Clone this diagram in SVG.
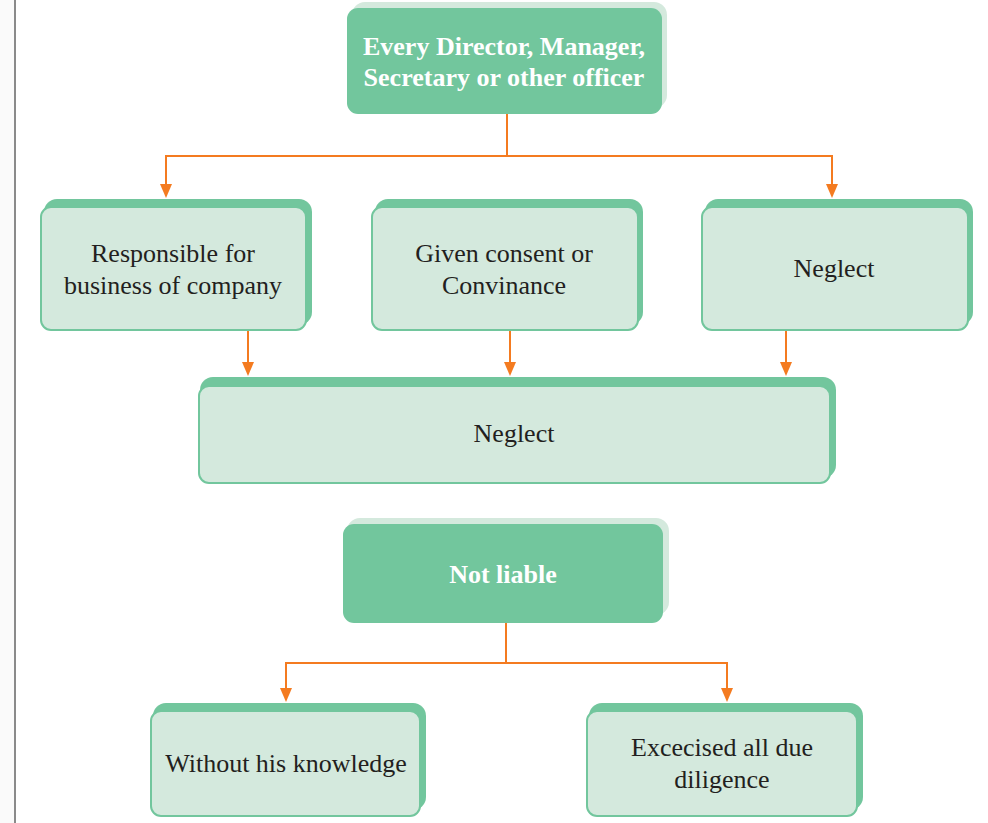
<svg xmlns="http://www.w3.org/2000/svg" width="988" height="823" viewBox="0 0 988 823">
  <defs>
    <style>
      .dark-back { fill: #d4e9dd; }
      .dark-front { fill: #72c69d; }
      .light-back { fill: #72c69d; }
      .light-front { fill: #d4e9dd; stroke: #72c69d; stroke-width: 2; }
      .txt { font-family: "Liberation Serif", "Times New Roman", serif; font-size: 26px; fill: #231f20; text-anchor: middle; }
      .txt-b { font-family: "Liberation Serif", "Times New Roman", serif; font-size: 26px; font-weight: bold; fill: #ffffff; text-anchor: middle; }
      .wire { fill: none; stroke: #f47b20; stroke-width: 2; }
      .head { fill: #f47b20; }
    </style>
  </defs>

  <rect width="988" height="823" fill="#ffffff"/>
  <rect x="0" y="0" width="15" height="823" fill="#fafafa"/>
  <line x1="15" y1="0" x2="15" y2="823" stroke="#8a8a8a" stroke-width="2"/>

  <g id="connectors">
    <path class="wire" d="M507,114 V156 H166 V186" />
    <path class="wire" d="M507,156 H832 V186" />
    <path class="head" d="M160,184 L172,184 L166,198 z"/>
    <path class="head" d="M826,184 L838,184 L832,198 z"/>

    <path class="wire" d="M248,331 V364" />
    <path class="wire" d="M510,331 V364" />
    <path class="wire" d="M786,331 V364" />
    <path class="head" d="M242,362 L254,362 L248,376 z"/>
    <path class="head" d="M504,362 L516,362 L510,376 z"/>
    <path class="head" d="M780,362 L792,362 L786,376 z"/>

    <path class="wire" d="M506,623 V663 H286 V690" />
    <path class="wire" d="M506,663 H727 V690" />
    <path class="head" d="M280,688 L292,688 L286,702 z"/>
    <path class="head" d="M721,688 L733,688 L727,702 z"/>
  </g>

  <g id="officer">
    <rect class="dark-back" x="352" y="2" width="315" height="106" rx="13"/>
    <rect class="dark-front" x="347" y="8" width="315" height="106" rx="11"/>
    <text class="txt-b" x="504" y="55">Every Director, Manager,</text>
    <text class="txt-b" x="504" y="86">Secretary or other officer</text>
  </g>

  <g id="responsible">
    <rect class="light-back" x="44" y="199" width="268" height="126" rx="13"/>
    <rect class="light-front" x="41" y="207" width="265" height="123" rx="10"/>
    <text class="txt" x="173" y="262">Responsible for</text>
    <text class="txt" x="173" y="294">business of company</text>
  </g>

  <g id="consent">
    <rect class="light-back" x="375" y="199" width="268" height="126" rx="13"/>
    <rect class="light-front" x="372" y="207" width="266" height="123" rx="10"/>
    <text class="txt" x="504" y="262">Given consent or</text>
    <text class="txt" x="504" y="294">Convinance</text>
  </g>

  <g id="neglect-top">
    <rect class="light-back" x="705" y="199" width="268" height="126" rx="13"/>
    <rect class="light-front" x="702" y="207" width="266" height="123" rx="10"/>
    <text class="txt" x="834" y="277">Neglect</text>
  </g>

  <g id="neglect-wide">
    <rect class="light-back" x="200" y="377" width="636" height="101" rx="13"/>
    <rect class="light-front" x="199" y="386" width="631" height="97" rx="10"/>
    <text class="txt" x="514" y="442">Neglect</text>
  </g>

  <g id="not-liable">
    <rect class="dark-back" x="347" y="518" width="322" height="97" rx="13"/>
    <rect class="dark-front" x="343" y="524" width="320" height="99" rx="11"/>
    <text class="txt-b" x="503" y="583">Not liable</text>
  </g>

  <g id="knowledge">
    <rect class="light-back" x="153" y="703" width="273" height="107" rx="13"/>
    <rect class="light-front" x="151" y="711" width="269" height="105" rx="10"/>
    <text class="txt" x="286" y="772">Without his knowledge</text>
  </g>

  <g id="diligence">
    <rect class="light-back" x="589" y="703" width="274" height="107" rx="13"/>
    <rect class="light-front" x="587" y="711" width="270" height="105" rx="10"/>
    <text class="txt" x="722" y="756">Excecised all due</text>
    <text class="txt" x="722" y="788">diligence</text>
  </g>
</svg>
